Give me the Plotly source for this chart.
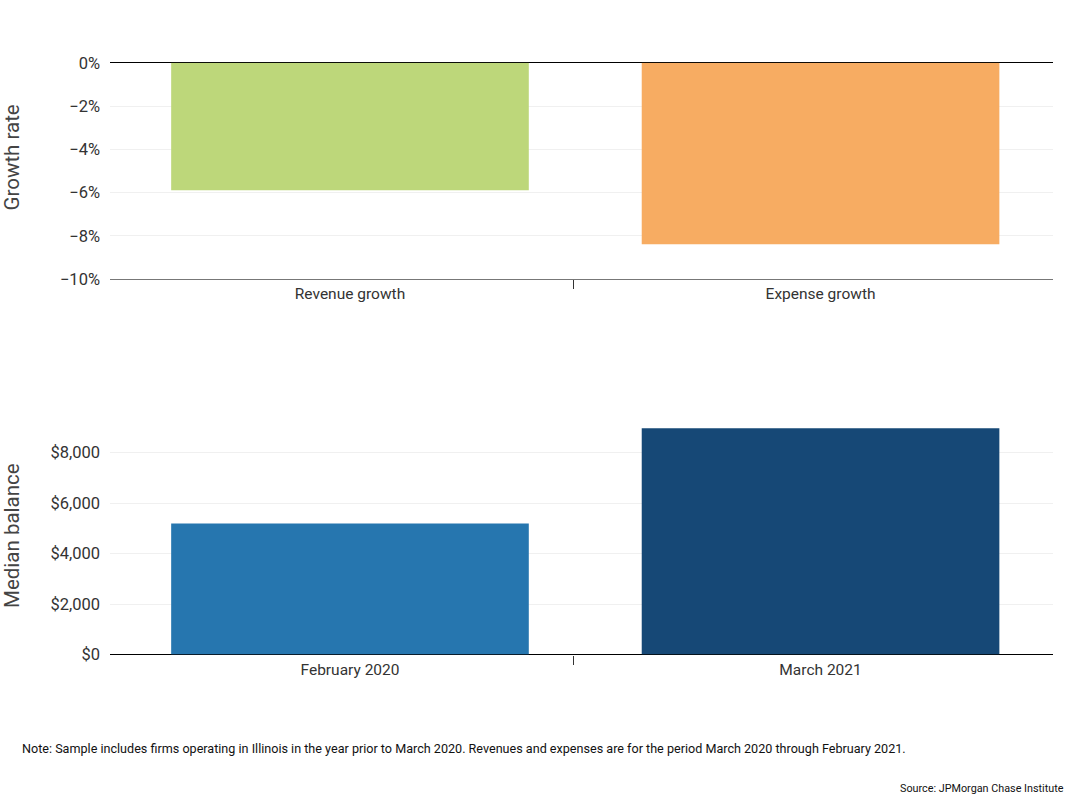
import plotly.graph_objects as go
from plotly.subplots import make_subplots

growth_categories = ["Revenue growth", "Expense growth"]
growth_values = [-5.9, -8.4]
growth_colors = ["#BDD77A", "#F7AC62"]

balance_categories = ["February 2020", "March 2021"]
balance_values = [5190, 8970]
balance_colors = ["#2676AF", "#164876"]

growth_ticks = [0, -2, -4, -6, -8, -10]
growth_ticktext = ["0%", "\u22122%", "\u22124%", "\u22126%", "\u22128%", "\u221210%"]
balance_ticks = [0, 2000, 4000, 6000, 8000]
balance_ticktext = ["$0", "$2,000", "$4,000", "$6,000", "$8,000"]

note_text = ("Note: Sample includes firms operating in Illinois in the year prior to March 2020. "
             "Revenues and expenses are for the period March 2020 through February 2021.")
source_text = "Source: JPMorgan Chase Institute"

FONT = "Roboto, 'Liberation Sans', sans-serif"
W, H = 1071, 801
ML, MR = 110, 18
PW = W - ML - MR
# observed rendering: paper appears 785 px tall starting 8 px down
H_EFF, Y_OFF = 785, 8
X_RANGE = [-0.51, 1.494]
SEP_TICK = 0.476

fig = make_subplots(rows=2, cols=1)

fig.add_trace(go.Bar(x=growth_categories, y=growth_values, marker_color=growth_colors,
                     marker_line_width=0, width=0.76, showlegend=False), row=1, col=1)
fig.add_trace(go.Bar(x=balance_categories, y=balance_values, marker_color=balance_colors,
                     marker_line_width=0, width=0.76, showlegend=False), row=2, col=1)

def py(pix):
    return 1 - (pix - Y_OFF) / H_EFF

def px(pix):
    return (pix - ML) / PW

common_x = dict(showgrid=False, ticks="", range=X_RANGE,
                tickfont=dict(family=FONT, size=15.5, color="#333"),
                domain=[0, 1])
fig.update_xaxes(**common_x, showline=True, linecolor="#777", linewidth=1, row=1, col=1)
fig.update_xaxes(**common_x, showline=False, ticklabelstandoff=4, row=2, col=1)

ycommon = dict(showgrid=True, gridcolor="#F0F0F0", gridwidth=1,
               zeroline=True, zerolinecolor="#000", zerolinewidth=1.3,
               tickfont=dict(family=FONT, size=16.5, color="#333"),
               ticks="", ticklabelstandoff=9)
fig.update_yaxes(range=[-10, 0], tickvals=growth_ticks, ticktext=growth_ticktext,
                 domain=[py(279), py(62)], **ycommon, row=1, col=1)
fig.update_yaxes(range=[0, 9000], tickvals=balance_ticks, ticktext=balance_ticktext,
                 domain=[py(656), py(428)], **ycommon, row=2, col=1)

# separator ticks between the two categories (overlay axes, ticks only)
sep = dict(range=X_RANGE, tickvals=[SEP_TICK], ticks="outside", ticklen=9,
           tickcolor="#333", tickwidth=1, showticklabels=False, showgrid=False,
           zeroline=False, showline=False, side="bottom", domain=[0, 1],
           fixedrange=True)
fig.update_layout(xaxis3=dict(overlaying="x", anchor="y", **sep),
                  xaxis4=dict(overlaying="x2", anchor="y2", **sep))
fig.add_trace(go.Scatter(x=[None], y=[None], xaxis="x3", yaxis="y",
                         showlegend=False, hoverinfo="skip"))
fig.add_trace(go.Scatter(x=[None], y=[None], xaxis="x4", yaxis="y2",
                         showlegend=False, hoverinfo="skip"))

annotations = [
    dict(text="Growth rate", x=px(12), xref="paper", y=py(157), yref="paper",
         textangle=-90, showarrow=False, xanchor="center", yanchor="middle",
         font=dict(family=FONT, size=20.5, color="#444")),
    dict(text="Median balance", x=px(12), xref="paper", y=py(537), yref="paper",
         textangle=-90, showarrow=False, xanchor="center", yanchor="middle",
         font=dict(family=FONT, size=20.5, color="#444")),
    dict(text=note_text, x=px(20), xref="paper", y=py(750), yref="paper",
         showarrow=False, xanchor="left", yanchor="middle",
         font=dict(family=FONT, size=12.6, color="#111")),
    dict(text=source_text, x=px(1066), xref="paper", y=py(790), yref="paper",
         showarrow=False, xanchor="right", yanchor="middle",
         font=dict(family=FONT, size=10.8, color="#111")),
]

fig.update_layout(width=W, height=H, margin=dict(l=ML, r=MR, t=0, b=0),
                  plot_bgcolor="white", paper_bgcolor="white",
                  annotations=annotations, font=dict(family=FONT))

fig.write_html("out.html", config={"displayModeBar": False},
               post_script="document.body.style.margin='0';document.body.style.overflow='hidden';")
